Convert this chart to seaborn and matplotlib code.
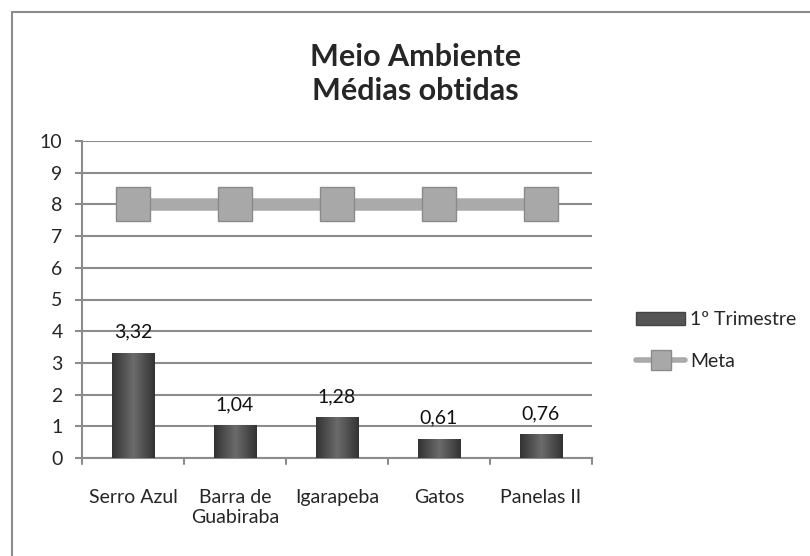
import matplotlib
matplotlib.use("Agg")
import matplotlib.pyplot as plt
import seaborn as sns
import numpy as np
import pandas as pd
from matplotlib.lines import Line2D
from matplotlib.patches import Patch

categories = ["Serro Azul", "Barra de\nGuabiraba", "Igarapeba", "Gatos", "Panelas II"]
trimestre = [3.32, 1.04, 1.28, 0.61, 0.76]
meta = [8, 8, 8, 8, 8]
labels = ["3,32", "1,04", "1,28", "0,61", "0,76"]
yticks = list(range(0, 11))

sns.set_style("white")
plt.rcParams['font.family'] = ['Lato', 'DejaVu Sans']

df = pd.DataFrame({"cat": categories, "val": trimestre})

W, H = 810, 556
fig = plt.figure(figsize=(8.10, 5.56), dpi=100)
ax = fig.add_axes([82 / W, 1 - 458 / H, (592 - 82) / W, (458 - 141) / H])

sns.barplot(data=df, x="cat", y="val", color="#555555", width=0.42, ax=ax,
            saturation=1, edgecolor="none", zorder=3)

# gradient overlay on bars
grad = np.linspace(0, 1, 64)
shade = 0.42 - 0.22 * np.abs(grad - 0.5) * 2
img = np.repeat(np.dstack([shade, shade, shade]), 2, axis=0)
for p in ax.patches:
    x0, y0 = p.get_x(), p.get_y()
    w, h = p.get_width(), p.get_height()
    im = ax.imshow(img, extent=[x0, x0 + w, y0, y0 + h], aspect="auto", zorder=3.5)
    im.set_clip_path(p)

for i, (v, t) in enumerate(zip(trimestre, labels)):
    ax.text(i, v + 0.47, t, ha="center", va="baseline", fontsize=14, color="#111111", zorder=5)

xs = np.arange(len(categories))
ax.plot(xs, meta, color="#aaaaaa", lw=9, zorder=4, solid_capstyle="butt")
ax.plot(xs, meta, ls="none", marker="s", markersize=24, markerfacecolor="#a8a8a8",
        markeredgecolor="#8a8a8a", markeredgewidth=1, zorder=4.5)

ax.set_ylim(0, 10)
ax.set_xlim(-0.5, 4.5)
ax.set_yticks(yticks)
ax.set_yticklabels([str(v) for v in yticks], fontsize=14)
ax.yaxis.grid(True, color="#8c8c8c", lw=1.5, zorder=0)
ax.set_axisbelow(True)
ax.set_xticks(xs)
ax.set_xticklabels(categories, fontsize=14, linespacing=1.25)
ax.tick_params(axis="x", length=0, pad=22)
ax.tick_params(axis="y", length=5, width=1.5, direction="out", color="#8c8c8c", pad=9, left=True)
for xb in np.arange(-0.5, 5.0, 1.0):
    ax.plot([xb, xb], [0, -0.2], color="#8c8c8c", lw=1.5, clip_on=False, zorder=5)
ax.set_xlabel("")
ax.set_ylabel("")
for s in ["top", "right"]:
    ax.spines[s].set_visible(False)
for s in ["left", "bottom"]:
    ax.spines[s].set_color("#8c8c8c")
    ax.spines[s].set_linewidth(1.5)

fig.text(0.513, 1 - 74 / H, "Meio Ambiente\nMédias obtidas", ha="center", va="center",
         fontsize=22, fontweight="bold", linespacing=1.22)

handles = [Patch(facecolor="#555555", edgecolor="#444444", label="1º Trimestre"),
           Line2D([0], [0], color="#aaaaaa", lw=4, marker="s", markersize=14,
                  markerfacecolor="#a8a8a8", markeredgecolor="#8a8a8a", label="Meta")]
fig.legend(handles=handles, loc="center left", bbox_to_anchor=(0.764, 0.387), frameon=False,
           fontsize=14, handlelength=2.5, labelspacing=1.27, handletextpad=0.25)

# chart border (only top and left visible in the reference crop)
fig.add_artist(Line2D([12 / W, 12 / W], [0, 1 - 12 / H], transform=fig.transFigure,
                      color="#8c8c8c", lw=1.5))
fig.add_artist(Line2D([12 / W, 1], [1 - 12 / H, 1 - 12 / H], transform=fig.transFigure,
                      color="#8c8c8c", lw=1.5))

fig.savefig("out.png", dpi=100)
